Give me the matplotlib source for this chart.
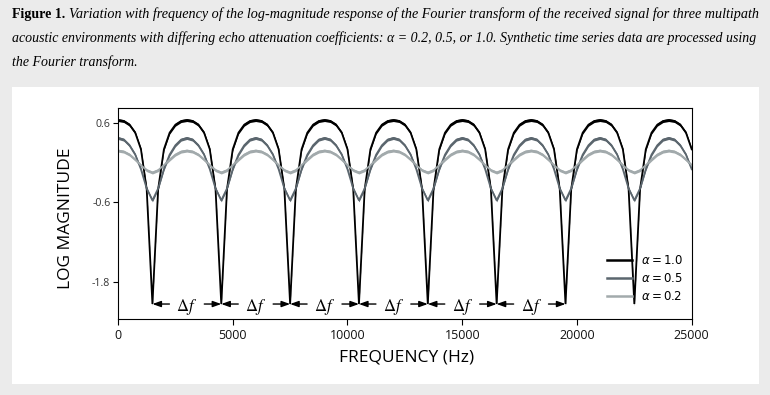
import numpy as np
import matplotlib
matplotlib.use("Agg")
import matplotlib.pyplot as plt
from matplotlib.patches import Rectangle

# ---------------- data ----------------
freq_hz = np.arange(0, 25001, 250)   # sampling grid, Hz

log_mag_a10 = [
    0.64, 0.625, 0.57, 0.45, 0.20, -0.40, -2.13, -0.40, 0.20, 0.45, 0.57, 0.625,
    0.64, 0.625, 0.57, 0.45, 0.20, -0.40, -2.13, -0.40, 0.20, 0.45, 0.57, 0.625,
    0.64, 0.625, 0.57, 0.45, 0.20, -0.40, -2.13, -0.40, 0.20, 0.45, 0.57, 0.625,
    0.64, 0.625, 0.57, 0.45, 0.20, -0.40, -2.13, -0.40, 0.20, 0.45, 0.57, 0.625,
    0.64, 0.625, 0.57, 0.45, 0.20, -0.40, -2.13, -0.40, 0.20, 0.45, 0.57, 0.625,
    0.64, 0.625, 0.57, 0.45, 0.20, -0.40, -2.13, -0.40, 0.20, 0.45, 0.57, 0.625,
    0.64, 0.625, 0.57, 0.45, 0.20, -0.40, -2.13, -0.40, 0.20, 0.45, 0.57, 0.625,
    0.64, 0.625, 0.57, 0.45, 0.20, -0.40, -2.13, -0.40, 0.20, 0.45, 0.57, 0.625,
    0.64, 0.625, 0.57, 0.45, 0.20,
]
log_mag_a05 = [
    0.37, 0.345, 0.26, 0.12, -0.10, -0.39, -0.57, -0.39, -0.10, 0.12, 0.26, 0.345,
    0.37, 0.345, 0.26, 0.12, -0.10, -0.39, -0.57, -0.39, -0.10, 0.12, 0.26, 0.345,
    0.37, 0.345, 0.26, 0.12, -0.10, -0.39, -0.57, -0.39, -0.10, 0.12, 0.26, 0.345,
    0.37, 0.345, 0.26, 0.12, -0.10, -0.39, -0.57, -0.39, -0.10, 0.12, 0.26, 0.345,
    0.37, 0.345, 0.26, 0.12, -0.10, -0.39, -0.57, -0.39, -0.10, 0.12, 0.26, 0.345,
    0.37, 0.345, 0.26, 0.12, -0.10, -0.39, -0.57, -0.39, -0.10, 0.12, 0.26, 0.345,
    0.37, 0.345, 0.26, 0.12, -0.10, -0.39, -0.57, -0.39, -0.10, 0.12, 0.26, 0.345,
    0.37, 0.345, 0.26, 0.12, -0.10, -0.39, -0.57, -0.39, -0.10, 0.12, 0.26, 0.345,
    0.37, 0.345, 0.26, 0.12, -0.10,
]
log_mag_a02 = [
    0.18, 0.165, 0.12, 0.045, -0.04, -0.115, -0.15, -0.115, -0.04, 0.045, 0.12, 0.165,
    0.18, 0.165, 0.12, 0.045, -0.04, -0.115, -0.15, -0.115, -0.04, 0.045, 0.12, 0.165,
    0.18, 0.165, 0.12, 0.045, -0.04, -0.115, -0.15, -0.115, -0.04, 0.045, 0.12, 0.165,
    0.18, 0.165, 0.12, 0.045, -0.04, -0.115, -0.15, -0.115, -0.04, 0.045, 0.12, 0.165,
    0.18, 0.165, 0.12, 0.045, -0.04, -0.115, -0.15, -0.115, -0.04, 0.045, 0.12, 0.165,
    0.18, 0.165, 0.12, 0.045, -0.04, -0.115, -0.15, -0.115, -0.04, 0.045, 0.12, 0.165,
    0.18, 0.165, 0.12, 0.045, -0.04, -0.115, -0.15, -0.115, -0.04, 0.045, 0.12, 0.165,
    0.18, 0.165, 0.12, 0.045, -0.04, -0.115, -0.15, -0.115, -0.04, 0.045, 0.12, 0.165,
    0.18, 0.165, 0.12, 0.045, -0.04,
]
alpha_labels = ["1.0", "0.5", "0.2"]
y_ticks = [0.6, -0.6, -1.8]
x_ticks = [0, 5000, 10000, 15000, 20000, 25000]
dip_freqs = [1500, 4500, 7500, 10500, 13500, 16500, 19500]
dip_level = -2.13

caption_bold = "Figure 1."
caption_l1 = ("Variation with frequency of the log-magnitude response of the Fourier "
              "transform of the received signal for three multipath")
caption_l2 = ("acoustic environments with differing echo attenuation coefficients: "
              "\u03b1 = 0.2, 0.5, or 1.0. Synthetic time series data are processed using")
caption_l3 = "the Fourier transform."

# ---------------- figure ----------------
W, H = 770, 395
fig = plt.figure(figsize=(W / 100, H / 100), dpi=100)
fig.patch.set_facecolor("#ebebeb")


def fx(x):
    return x / W


def fy(y):
    return 1 - y / H


fig.patches.append(Rectangle((fx(12), fy(384)), fx(758.7) - fx(12), fy(86.7) - fy(384),
                             transform=fig.transFigure, facecolor="white",
                             edgecolor="none", zorder=-5))

renderer = fig.canvas.get_renderer()
serif = "Liberation Serif"

# caption, fitted to the line width
t2 = fig.text(fx(12), fy(42.3), caption_l2, family=serif, style="italic",
              fontsize=10, va="baseline")
w2 = t2.get_window_extent(renderer).width
cap_fs = 10 * (747.0 / w2)
t2.set_fontsize(cap_fs)
tb = fig.text(fx(12), fy(18.3), caption_bold, family=serif, weight="bold",
              fontsize=cap_fs, va="baseline")
wb = tb.get_window_extent(renderer).width
space = 0.27 * cap_fs * 100 / 72
t1 = fig.text(fx(12 + wb + space), fy(18.3), caption_l1, family=serif,
              style="italic", fontsize=cap_fs, va="baseline")
w1 = t1.get_window_extent(renderer).width
avail = 747.0 - wb - space
t1.set_fontsize(cap_fs * avail / w1)
fig.text(fx(12), fy(66.3), caption_l3, family=serif, style="italic",
         fontsize=cap_fs, va="baseline")

# axes
ax = fig.add_axes([fx(118), fy(319.3), fx(691.7) - fx(118), fy(108.3) - fy(319.3)])
ax.set_zorder(2)
ax.set_facecolor("white")

series = [log_mag_a10, log_mag_a05, log_mag_a02]
colors = ["#000000", "#5b666e", "#a2aaac"]
band = 0.022
handles = []
for vals, col, lab in zip(series, colors, alpha_labels):
    v = np.asarray(vals)
    ax.fill_between(freq_hz, v - band, v + band, color=col, lw=0)
    (ln,) = ax.plot(freq_hz, v, color=col, lw=1.3, solid_joinstyle="miter",
                    label=r"$\alpha = " + lab + "$")
    handles.append(ln)

ax.set_xlim(0, 25000)
ax.set_ylim(-2.36, 0.817)
ax.set_xticks(x_ticks)
ax.set_xticklabels([str(t) for t in x_ticks])
ax.set_yticks(y_ticks)
ax.set_yticklabels([f"{t:.1f}" for t in y_ticks])
for s in ax.spines.values():
    s.set_linewidth(0.8)
ax.tick_params(axis="y", direction="out", length=3.5, width=0.8, pad=2,
               labelsize=7.7, labelcolor="#333333")
ax.tick_params(axis="x", direction="out", length=4, width=0.8, pad=3,
               labelsize=9, labelcolor="#111111")
for lbl in ax.get_xticklabels() + ax.get_yticklabels():
    lbl.set_family("Open Sans")

ax.set_ylabel("LOG MAGNITUDE", family="Open Sans", fontsize=12.5)
ax.yaxis.set_label_coords((66.3 - 118) / 573.7, (319.3 - 218.7) / 211.0)
ax.yaxis.label.set_verticalalignment("center")
ax.set_xlabel("FREQUENCY (Hz)", family="Open Sans", fontsize=12.5)
ax.xaxis.set_label_coords(0.5035, (319.3 - 357) / 211.0)
ax.xaxis.label.set_verticalalignment("center")

# delta-f annotations between dips
for a, b in zip(dip_freqs[:-1], dip_freqs[1:]):
    c = (a + b) / 2
    ax.text(c, dip_level, r"$\Delta f$", ha="center", va="center_baseline",
            fontsize=12, math_fontfamily="stix", zorder=5)
    for tail, head in ((c - 760, a), (c + 760, b)):
        ax.annotate("", xy=(head, dip_level), xytext=(tail, dip_level),
                    arrowprops=dict(arrowstyle="-|>,head_length=0.5,head_width=0.18",
                                    color="black", lw=1.0, shrinkA=0, shrinkB=0,
                                    mutation_scale=10), zorder=5)

leg = ax.legend(handles=handles, loc="upper left",
                bbox_to_anchor=((607 - 118) / 573.7, (319.3 - 254) / 211.0),
                frameon=False, fontsize=8.5, handlelength=2.1, handletextpad=0.75,
                labelspacing=0.42, borderpad=0, borderaxespad=0)
for ln in leg.get_lines():
    ln.set_linewidth(1.8)

fig.savefig("out.png", dpi=100, facecolor=fig.get_facecolor())
